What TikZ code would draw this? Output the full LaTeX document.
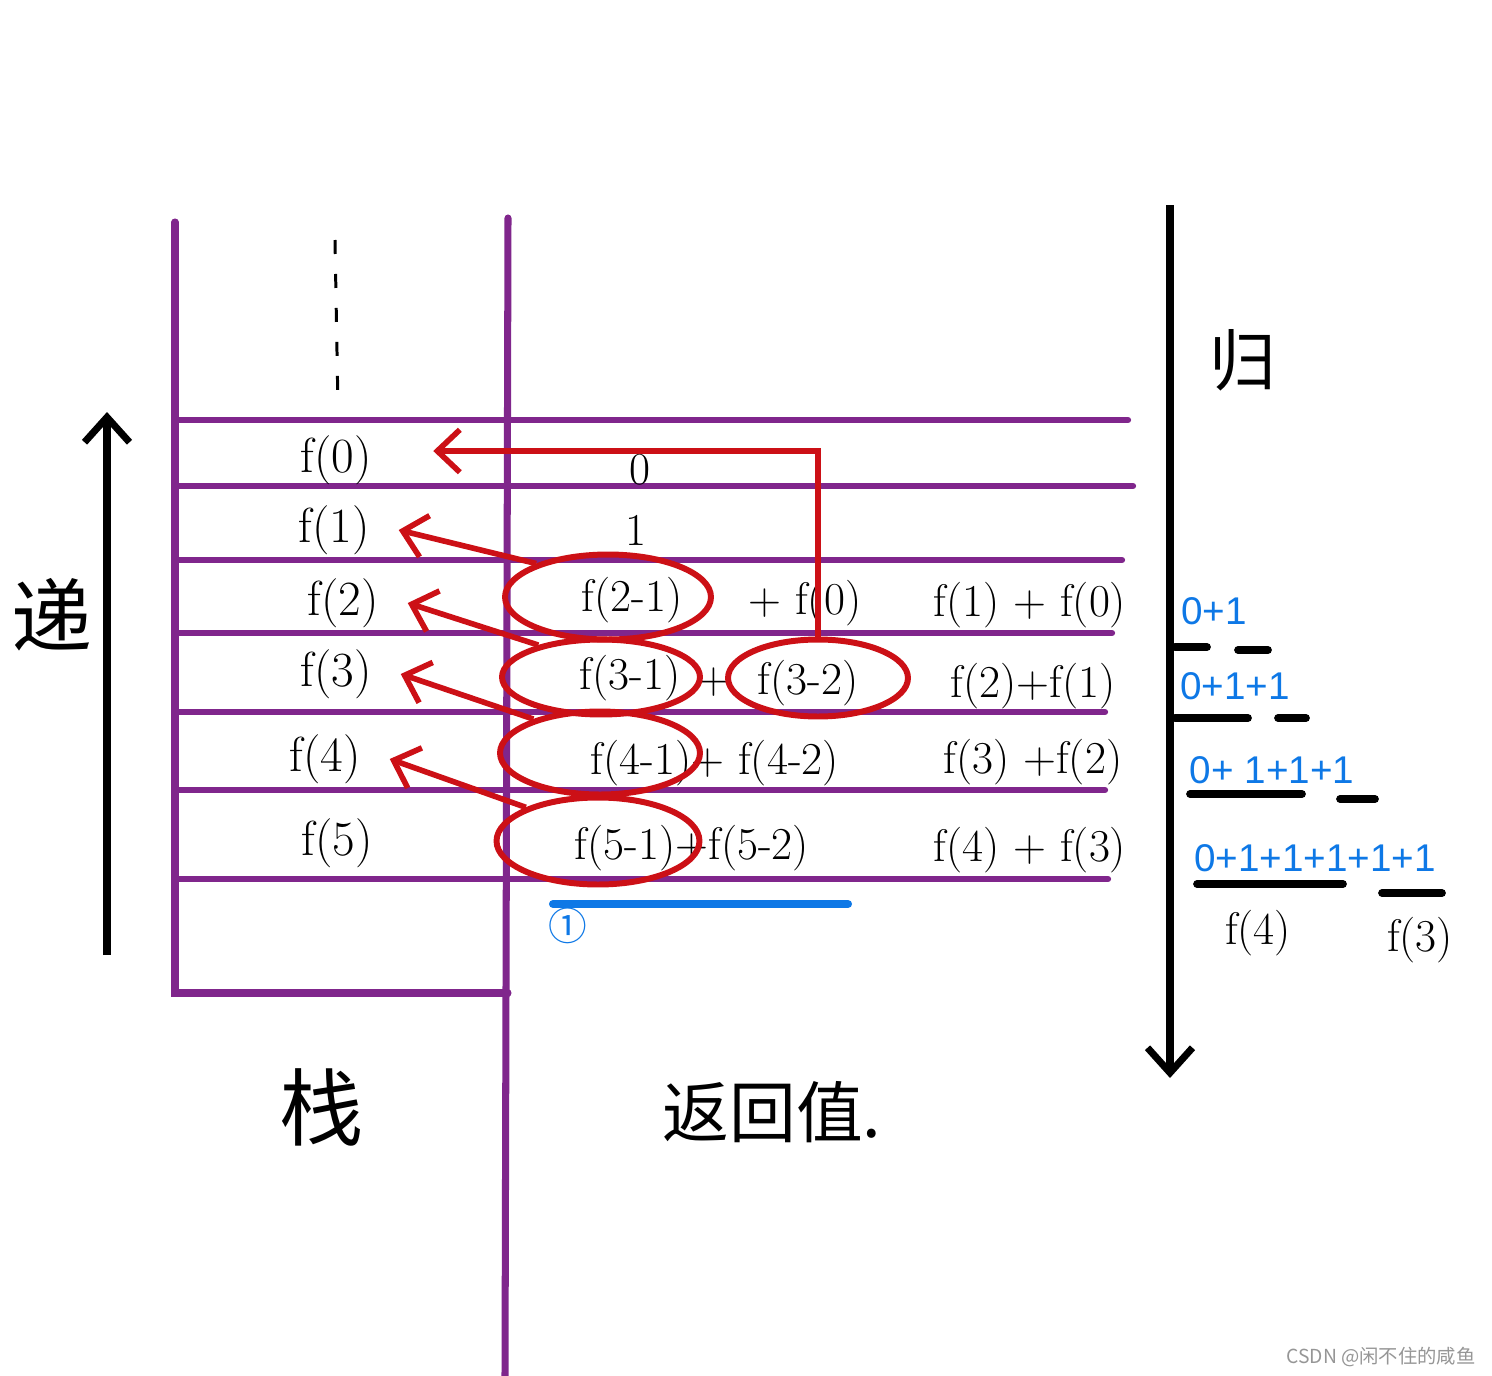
\documentclass[tikz,border=0pt]{standalone}
\usepackage{fontspec}
\usepackage{tikz}
\usetikzlibrary{arrows.meta,shapes.geometric}
\newfontfamily\cjk{Noto Sans CJK SC}
\newfontfamily\sumfont{Liberation Sans}
\definecolor{stackLine}{RGB}{128,38,140}
\definecolor{callRed}{RGB}{204,16,22}
\definecolor{sumBlue}{RGB}{14,120,230}
\definecolor{markGray}{RGB}{150,150,150}
\tikzset{
    every node/.append style={align=center,inner sep=1pt},
    wall/.style={draw=stackLine,line width=4pt,line cap=round},
    rowline/.style={draw=stackLine,line width=3.6pt,line cap=round},
    slot/.style={font=\fontsize{28}{30}\selectfont,outer xsep=0.55cm},
    expr/.style={font=\fontsize{26}{28}\selectfont},
    hz/.style={font=\cjk\fontsize{44}{46}\selectfont},
    ring/.style={ellipse,draw=callRed,line width=3.4pt,inner sep=0pt},
    retarr/.style={-{Straight Barb[length=4.5mm,width=8.5mm]},draw=callRed,line width=3.2pt},
    dirarr/.style={-{Straight Barb[length=5mm,width=9mm]},line width=4pt},
    sumtxt/.style={text=sumBlue,font=\sumfont\fontsize{22}{24}\selectfont},
    ul/.style={line width=4.4pt,line cap=round}
}
\begin{document}
\begin{tikzpicture}[x=0.02cm,y=-0.02cm]
    \useasboundingbox (0,0) rectangle (1492,1376);
    % stack frame
    \draw[wall] (175,222) -- (175,993) -- (508,993);
    \draw[wall] (508,218) -- (505,1376);
    \draw[rowline] (175,420) -- (1128,420);
    \draw[rowline] (175,486) -- (1133,486);
    \draw[rowline] (175,560) -- (1122,560);
    \draw[rowline] (175,633) -- (1112,633);
    \draw[rowline] (175,712) -- (1105,712);
    \draw[rowline] (175,790) -- (1105,790);
    \draw[rowline] (175,879) -- (1108,879);
    \draw[line width=1.7pt,dash pattern=on 0.28cm off 0.4cm] (335,240) -- (338,408);

    % stack slots
    \node[slot] (f0) at (336,460) {f(0)};
    \node[slot] (f1) at (334,530) {f(1)};
    \node[slot] (f2) at (343,603) {f(2)};
    \node[slot] (f3) at (336,674) {f(3)};
    \node[slot] (f4) at (325,759) {f(4)};
    \node[slot] (f5) at (337,843) {f(5)};

    % return values
    \node[expr] (v0)  at (640,470)  {0};
    \node[expr] (v1)  at (636,530)  {1};
    \node[expr] (v21) at (632,600)  {f(2-1)};
    \node[expr] (v22) at (805,603)  {+ f(0)};
    \node[expr] (r2)  at (1030,605) {f(1) + f(0)};
    \node[expr] (v31) at (630,678)  {f(3-1)};
    \node[expr] (p3)  at (714,682)  {+};
    \node[expr] (v32) at (808,683)  {f(3-2)};
    \node[expr] (r3)  at (1033,686) {f(2)+f(1)};
    \node[expr] (v4)  at (715,763)  {f(4-1)+ f(4-2)};
    \node[expr] (r4)  at (1033,762) {f(3) +f(2)};
    \node[expr] (v5)  at (692,848)  {f(5-1)+f(5-2)};
    \node[expr] (r5)  at (1030,850) {f(4) + f(3)};

    % calls that go back down the stack
    \node[ring,minimum width=4.12cm,minimum height=1.7cm]  (e21) at (608,597) {};
    \node[ring,minimum width=3.96cm,minimum height=1.5cm]  (e31) at (601,677) {};
    \node[ring,minimum width=3.6cm,minimum height=1.54cm]  (e32) at (818,678) {};
    \node[ring,minimum width=4.0cm,minimum height=1.66cm]  (e41) at (600,753) {};
    \node[ring,minimum width=4.06cm,minimum height=1.74cm] (e51) at (598,841) {};

    \draw[retarr] (e21.155) -- (f1.east);
    \draw[retarr] (e31.153) -- (f2.east);
    \draw[retarr] (e41.153) -- (f3.east);
    \draw[retarr] (e51.155) -- (f4.east);
    \draw[retarr] (e32.north) |- ([xshift=0.65cm,yshift=0.18cm]f0.east);

    \draw[sumBlue,line width=4.6pt,line cap=round] (553,904) -- (848,904);
    \node[text=sumBlue,font=\cjk\fontsize{22}{24}\selectfont] (one) at (568,926) {①};

    % direction arrows
    \coordinate (diBot) at (107,955);
    \coordinate (diTop) at (107,412);
    \coordinate (guiTop) at (1170,205);
    \coordinate (guiBot) at (1170,1078);
    \draw[dirarr] (diBot) -- (diTop);
    \draw[dirarr] (guiTop) -- (guiBot);
    \node[hz,font=\cjk\fontsize{46}{48}\selectfont] (di)  at (52,615)   {递};
    \node[hz,font=\cjk\fontsize{38}{40}\selectfont] (gui) at (1243,360) {归};
    \node[hz,font=\cjk\fontsize{48}{50}\selectfont] (zhan) at (322,1107) {栈};
    \node[hz,font=\cjk\fontsize{38}{40}\selectfont] (fhz) at (772,1112) {返回值.};

    % sums on the way back
    \node[sumtxt] (s2) at (1214,611) {0+1};
    \node[sumtxt] (s3) at (1235,686) {0+1+1};
    \node[sumtxt] (s4) at (1272,770) {0+ 1+1+1};
    \node[sumtxt] (s5) at (1315,858) {0+1+1+1+1+1};
    \draw[ul] (1175,647) -- (1207,647);
    \draw[ul] (1238,650) -- (1268,650);
    \draw[ul] (1175,718) -- (1248,718);
    \draw[ul] (1278,718) -- (1306,718);
    \draw[ul] (1190,794) -- (1302,794);
    \draw[ul] (1340,799) -- (1375,799);
    \draw[ul] (1197,884) -- (1343,884);
    \draw[ul] (1382,893) -- (1442,893);
    \node[expr] (g4) at (1258,933) {f(4)};
    \node[expr] (g3) at (1420,940) {f(3)};

    \node[text=markGray,font=\cjk\fontsize{11}{13}\selectfont] (mark) at (1381,1357) {CSDN @闲不住的咸鱼};
\end{tikzpicture}
\end{document}
